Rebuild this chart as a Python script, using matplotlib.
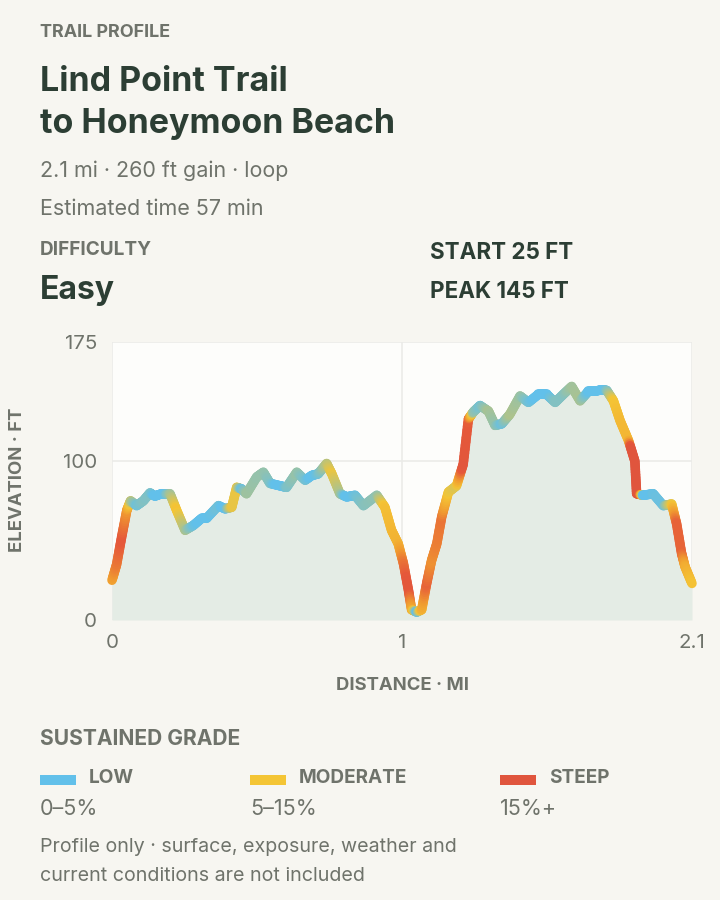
import numpy as np
import matplotlib
matplotlib.use("Agg")
import matplotlib.pyplot as plt
from matplotlib.collections import LineCollection
from matplotlib.colors import LinearSegmentedColormap, Normalize
from matplotlib.patches import Rectangle

plt.rcParams['font.family'] = ['Inter', 'DejaVu Sans']

# ---------------- data ----------------
distance_mi = [0.000, 0.016, 0.033, 0.051, 0.064, 0.085, 0.108, 0.131, 0.148, 0.171,
               0.200, 0.223, 0.252, 0.280, 0.309, 0.326, 0.367, 0.390, 0.413, 0.430,
               0.447, 0.464, 0.499, 0.522, 0.545, 0.579, 0.602, 0.637, 0.666, 0.689,
               0.711, 0.740, 0.758, 0.786, 0.809, 0.838, 0.867, 0.913, 0.941, 0.964,
               0.987, 1.005, 1.022, 1.033, 1.051, 1.068, 1.085, 1.102, 1.120, 1.137,
               1.160, 1.188, 1.211, 1.229, 1.246, 1.269, 1.298, 1.321, 1.344, 1.372,
               1.407, 1.436, 1.470, 1.499, 1.528, 1.556, 1.585, 1.614, 1.643, 1.666,
               1.689, 1.706, 1.729, 1.752, 1.781, 1.803, 1.809, 1.832, 1.866, 1.901,
               1.930, 1.947, 1.964, 1.976, 2.000]
elevation_ft = [25, 35, 52, 69, 75, 72, 75, 80, 78, 79.5,
                79.5, 69, 56.5, 59.5, 64, 64, 72, 70, 71, 83.5,
                82.5, 79.5, 90, 93, 86, 84.5, 83.5, 93, 88, 91,
                92, 98.5, 92, 79.5, 77.5, 78.5, 72, 78.5, 71, 56.5,
                48, 35.5, 19, 6.5, 5, 6.5, 23, 37.5, 48, 65,
                80.5, 84.5, 98, 126.5, 131, 135, 131.5, 122.5, 123.5, 129.5,
                141, 137, 142, 142, 137, 142, 147, 138, 144, 144,
                145, 144.5, 138, 125.5, 113, 100, 79.5, 78.5, 79.5, 72,
                73, 60.5, 42, 33.5, 23]

y_ticks = [0, 100, 175]
x_ticks = [0, 1, 2]
x_tick_labels = ['0', '1', '2.1']

grade_names = ['LOW', 'MODERATE', 'STEEP']
grade_ranges = ['0\u20135%', '5\u201315%', '15%+']
grade_colors = ['#62c0ea', '#f4c535', '#e0553d']

# ---------------- styling ----------------
BG = '#f7f6f1'
PLOT_BG = '#fdfdfb'
FILL = '#e4ece5'
DARK = '#2c3e34'
GRAY = '#6f736b'
W, H = 720, 900

def fx(px):
    return px / W

def fy(py):
    return 1 - py / H

def pt(px):
    return px * 0.72

fig = plt.figure(figsize=(7.2, 9), dpi=100, facecolor=BG)

# ---------------- header ----------------
fig.text(fx(40), fy(37), 'TRAIL PROFILE', fontsize=pt(18), fontweight='bold', color=GRAY, va='baseline')
fig.text(fx(40), fy(91), 'Lind Point Trail', fontsize=pt(34), fontweight='bold', color=DARK, va='baseline')
fig.text(fx(40), fy(133), 'to Honeymoon Beach', fontsize=pt(34), fontweight='bold', color=DARK, va='baseline')
fig.text(fx(40), fy(177), '2.1 mi \u00b7 260 ft gain \u00b7 loop', fontsize=pt(21.5), color=GRAY, va='baseline')
fig.text(fx(40), fy(215), 'Estimated time 57 min', fontsize=pt(21.5), color=GRAY, va='baseline')
fig.text(fx(40), fy(255), 'DIFFICULTY', fontsize=pt(19), fontweight='bold', color=GRAY, va='baseline')
fig.text(fx(40), fy(299), 'Easy', fontsize=pt(32), fontweight='bold', color=DARK, va='baseline')
fig.text(fx(430), fy(259), 'START 25 FT', fontsize=pt(22.4), fontweight='bold', color=DARK, va='baseline')
fig.text(fx(430), fy(298), 'PEAK 145 FT', fontsize=pt(22.4), fontweight='bold', color=DARK, va='baseline')

# ---------------- chart ----------------
ax = fig.add_axes([fx(112), fy(620), (692 - 112) / W, (620 - 342) / H])
ax.set_facecolor(PLOT_BG)
for s in ax.spines.values():
    s.set_visible(False)

d = np.array(distance_mi)
e = np.array(elevation_ft)

ax.fill_between(d, e, 0, color=FILL, lw=0, zorder=1)

# grade (%) per segment and per node
seg_grade = np.abs(np.diff(e)) / (np.diff(d) * 5280) * 100
node_grade = np.empty(len(d))
node_grade[0] = seg_grade[0]
node_grade[-1] = seg_grade[-1]
node_grade[1:-1] = (seg_grade[:-1] + seg_grade[1:]) / 2

cmap = LinearSegmentedColormap.from_list('grade', [
    (0.0, grade_colors[0]), (0.09, grade_colors[0]), (0.36, grade_colors[1]),
    (0.59, '#f09a30'), (0.82, '#e5583a'), (1.0, grade_colors[2])])
norm = Normalize(0, 22)

segs, vals = [], []
n_sub = 12
for i in range(len(d) - 1):
    t = np.linspace(0, 1, n_sub + 1)
    xs = d[i] + (d[i + 1] - d[i]) * t
    ys = e[i] + (e[i + 1] - e[i]) * t
    gs = node_grade[i] + (node_grade[i + 1] - node_grade[i]) * t
    for k in range(n_sub):
        segs.append([(xs[k], ys[k]), (xs[k + 1], ys[k + 1])])
        vals.append((gs[k] + gs[k + 1]) / 2)

lc = LineCollection(segs, cmap=cmap, norm=norm, linewidths=pt(9.5),
                    capstyle='round', joinstyle='round', zorder=3)
lc.set_array(np.array(vals))
lc.set_clip_on(False)
ax.add_collection(lc)

ax.set_xlim(0, 2)
ax.set_ylim(0, 175)
ax.set_yticks(y_ticks)
ax.set_xticks(x_ticks)
ax.set_xticklabels(x_tick_labels)
ax.grid(True, color='#ebebe8', lw=1.2, zorder=0)
ax.set_axisbelow(True)
ax.tick_params(length=0, labelsize=pt(20.5), labelcolor=GRAY)
ax.tick_params(axis='y', pad=pt(15))
ax.tick_params(axis='x', pad=pt(14))

ax.set_xlabel('DISTANCE \u00b7 MI', fontsize=pt(18.5), fontweight='bold', color=GRAY)
ax.xaxis.set_label_coords(0.5, -0.234)
ax.xaxis.label.set_va('center')
ax.set_ylabel('ELEVATION \u00b7 FT', fontsize=pt(18.5), fontweight='bold', color=GRAY)
ax.yaxis.set_label_coords(-0.163, 0.505)
ax.yaxis.label.set_va('center')

# ---------------- legend ----------------
fig.text(fx(40), fy(745), 'SUSTAINED GRADE', fontsize=pt(21), fontweight='bold', color=GRAY, va='baseline')
legend_x = [40, 250, 500]
for lx, name, rng, col in zip(legend_x, grade_names, grade_ranges, grade_colors):
    fig.add_artist(Rectangle((fx(lx), fy(785)), 36 / W, 10 / H, transform=fig.transFigure,
                             facecolor=col, edgecolor='none'))
    fig.text(fx(lx + 49), fy(783), name, fontsize=pt(19), fontweight='bold', color=GRAY, va='baseline')
    fig.text(fx(lx), fy(815), rng, fontsize=pt(21.5), color=GRAY, va='baseline')

fig.text(fx(40), fy(852), 'Profile only \u00b7 surface, exposure, weather and', fontsize=pt(19.7), color=GRAY, va='baseline')
fig.text(fx(40), fy(881), 'current conditions are not included', fontsize=pt(19.7), color=GRAY, va='baseline')

fig.savefig('out.png', dpi=100, facecolor=BG)
